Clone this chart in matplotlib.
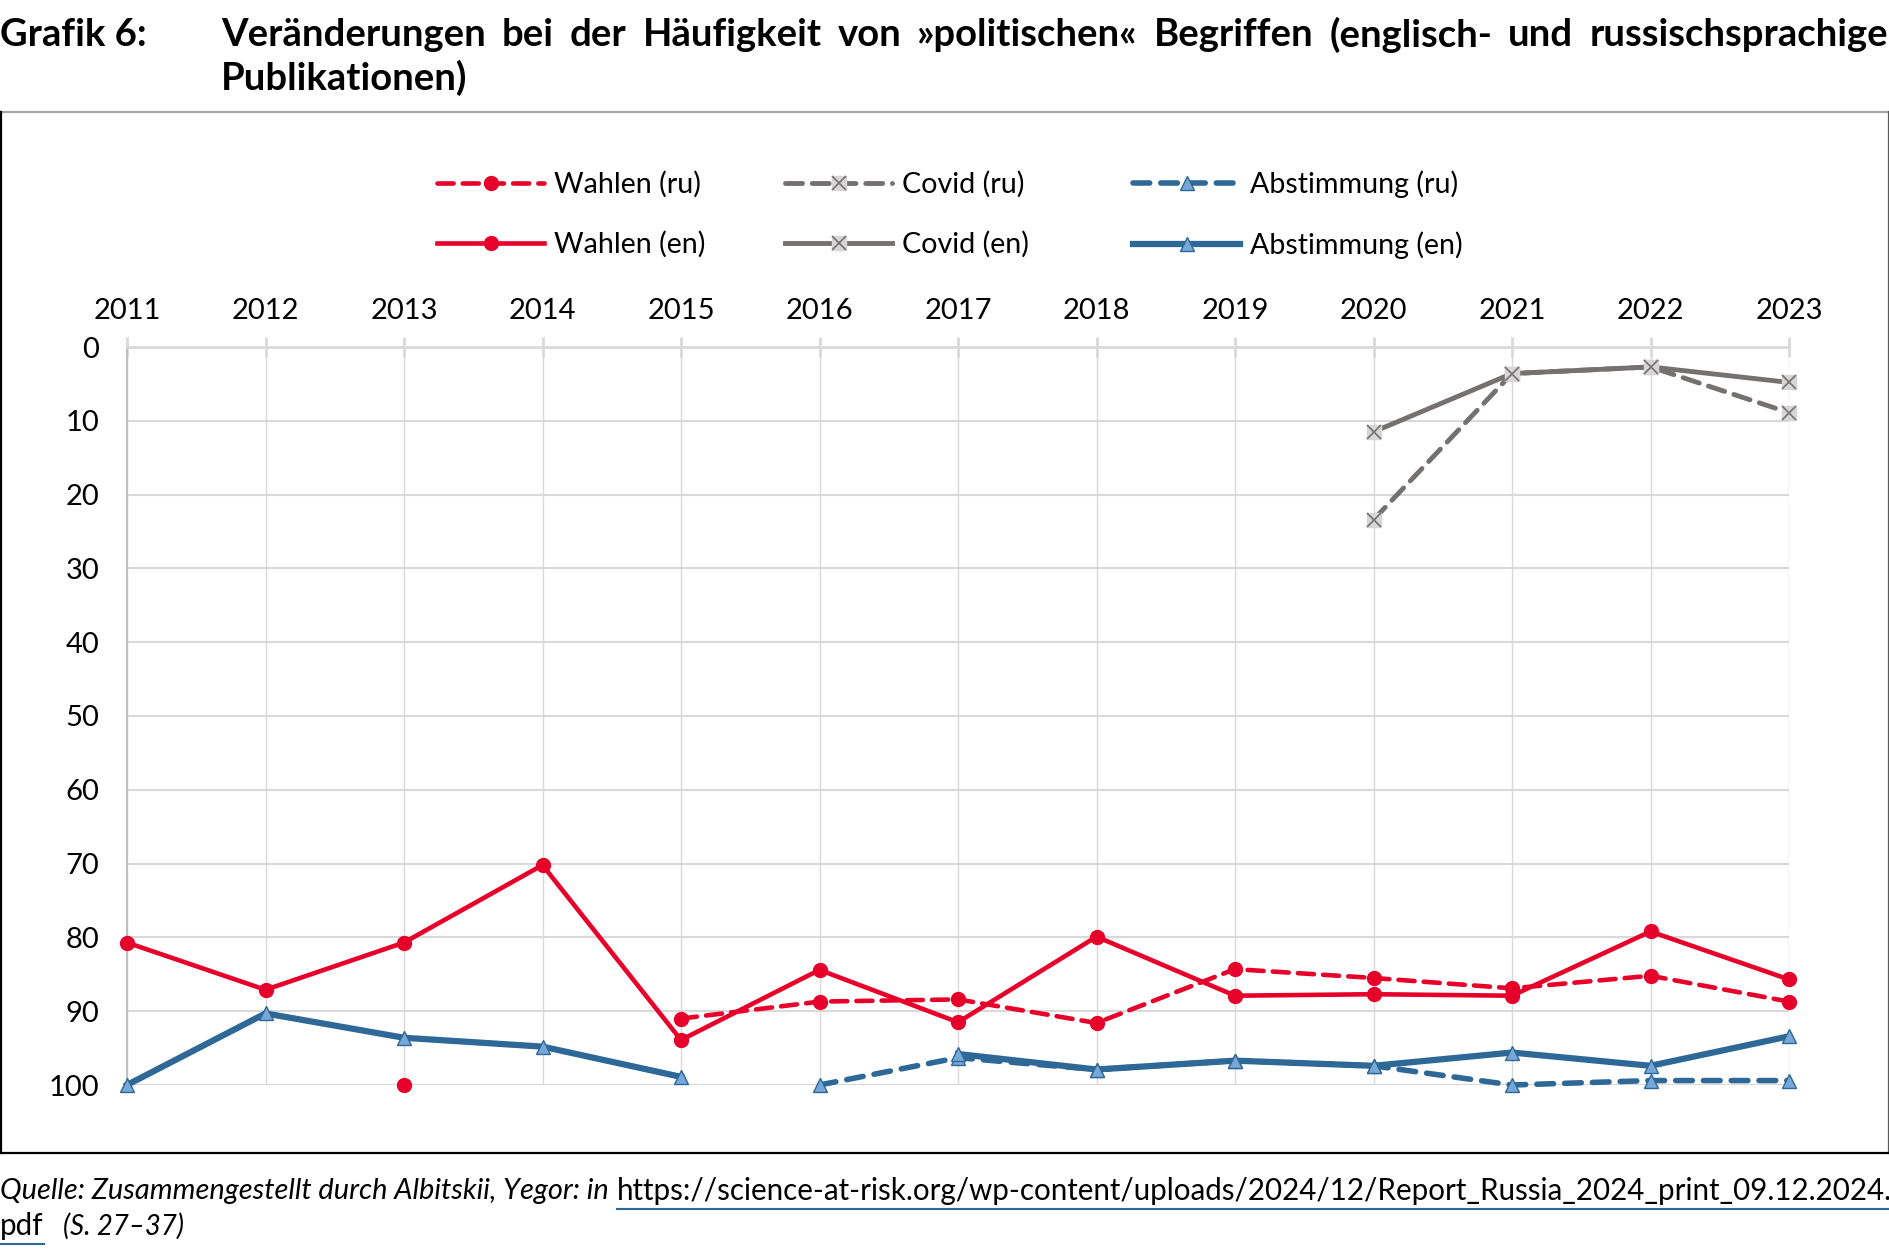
import numpy as np
from matplotlib import pyplot as plt
from matplotlib.lines import Line2D
from matplotlib.legend_handler import HandlerTuple

plt.rcParams['font.family'] = ['Lato', 'DejaVu Sans']

nan = np.nan
years = list(range(2011, 2024))
wahlen_ru = [nan, nan, 100, nan, 91.0, 88.7, 88.4, 91.6, 84.3, 85.5, 86.9, 85.2, 88.7]
wahlen_en = [80.7, 87.1, 80.7, 70.2, 93.9, 84.4, 91.5, 79.9, 87.9, 87.7, 87.9, 79.2, 85.7]
covid_ru = [nan] * 9 + [23.4, 3.6, 2.7, 8.9]
covid_en = [nan] * 9 + [11.5, 3.6, 2.7, 4.8]
abst_ru = [nan] * 5 + [100, 96.3, 97.9, 96.7, 97.4, 100, 99.4, 99.4]
abst_en = [100, 90.3, 93.6, 94.8, 98.9, nan, 95.8, 97.9, 96.7, 97.4, 95.6, 97.4, 93.4]
y_ticks = list(range(0, 101, 10))

title_label = "Grafik 6:"
title_line1 = "Veränderungen bei der Häufigkeit von »politischen« Begriffen (englisch- und russischsprachige"
title_line2 = "Publikationen)"
source_text = "Quelle: Zusammengestellt durch Albitskii, Yegor: in"
link_text = "https://science-at-risk.org/wp-content/uploads/2024/12/Report_Russia_2024_print_09.12.2024."
link_end = "pdf"
pages_text = "(S. 27–37)"

RED = "#E6002A"
GRAY = "#767171"
BLUE = "#2E6896"
TRI = "#76A7D6"

W, H = 1890, 1254


def justify(fig, pieces, x0, x1, y):
    # place pieces so that they fill x0..x1 (pixels)
    texts = [fig.text(0, 1 - y / H, s, va='center', ha='left', **kw) for s, kw in pieces]
    fig.canvas.draw()
    r = fig.canvas.get_renderer()
    widths = [t.get_window_extent(r).width for t in texts]
    gap = (x1 - x0 - sum(widths)) / max(len(texts) - 1, 1)
    x = x0
    for t, w in zip(texts, widths):
        t.set_x(x / W)
        x += w + gap
    return texts


def fit_text(fig, s, x0, x1, y, size, **kw):
    # scale font size so the text spans x0..x1 (pixels)
    t = fig.text(x0 / W, 1 - y / H, s, va='center', ha='left', fontsize=size, **kw)
    fig.canvas.draw()
    w = t.get_window_extent(fig.canvas.get_renderer()).width
    t.set_fontsize(size * (x1 - x0) / w)
    fig.canvas.draw()
    return t


def underline(fig, t, y):
    r = fig.canvas.get_renderer()
    bb = t.get_window_extent(r)
    fig.add_artist(Line2D([bb.x0 / W, bb.x1 / W], [1 - y / H, 1 - y / H],
                          transform=fig.transFigure, color=BLUE, lw=1.5))


def main() -> None:
    fig = plt.figure(figsize=(W / 100, H / 100), dpi=100)

    # frame around the chart
    for xs, ys, c in [([1, 1889], [112, 112], "#A6A6A6"), ([1889, 1889], [112, 1153], "#595959"),
                      ([1, 1889], [1153, 1153], "black"), ([1, 1], [112, 1153], "black")]:
        fig.add_artist(Line2D([x / W for x in xs], [1 - v / H for v in ys],
                              transform=fig.transFigure, color=c, lw=1.6))

    ax = fig.add_axes([127 / W, 1 - 1085 / H, (1789 - 127) / W, (1085 - 347) / H])

    ax.plot(years, wahlen_ru, color=RED, lw=3.3, ls=(0, (3.5, 2)), dash_capstyle='round',
            marker='o', ms=10, clip_on=False, zorder=3, label="Wahlen (ru)")
    cr, = ax.plot(years, covid_ru, color=GRAY, lw=3.5, ls=(0, (3.5, 2)), dash_capstyle='round',
                  marker='s', ms=10, mfc="#D6D6D6", mec="#D6D6D6", clip_on=False, zorder=3)
    crx, = ax.plot(years, covid_ru, ls='none', marker='x', ms=10, mew=1.2, color=GRAY,
                   clip_on=False, zorder=3.1)
    ax.plot(years, abst_ru, color=BLUE, lw=4, ls=(0, (3, 2)), dash_capstyle='round',
            marker='^', ms=10, mfc=TRI, mec=BLUE, mew=1, clip_on=False, zorder=3,
            label="Abstimmung (ru)")

    ax.plot(years, wahlen_en, color=RED, lw=3.3, marker='o', ms=10, clip_on=False, zorder=4,
            label="Wahlen (en)")
    ce, = ax.plot(years, covid_en, color=GRAY, lw=3.5, marker='s', ms=10, mfc="#D6D6D6",
                  mec="#D6D6D6", clip_on=False, zorder=4)
    cex, = ax.plot(years, covid_en, ls='none', marker='x', ms=10, mew=1.2, color=GRAY,
                   clip_on=False, zorder=4.1)
    ax.plot(years, abst_en, color=BLUE, lw=4.5, marker='^', ms=10, mfc=TRI, mec=BLUE, mew=1,
            clip_on=False, zorder=4, label="Abstimmung (en)")

    ax.set_xlim(2011, 2023)
    ax.set_ylim(100, 0)
    ax.xaxis.tick_top()
    ax.set_xticks(years)
    ax.set_yticks(y_ticks)
    ax.tick_params(axis='x', direction='inout', length=14, width=2, color='#D9D9D9',
                   pad=9.5, labelsize=21)
    ax.tick_params(axis='y', length=0, pad=20, labelsize=21)
    ax.grid(axis='y', color='#D9D9D9', lw=1.5)
    ax.grid(axis='x', color='#D9D9D9', lw=1)
    ax.set_axisbelow(True)
    for s in ['bottom', 'right']:
        ax.spines[s].set_visible(False)
    ax.spines['top'].set_color('#D9D9D9')
    ax.spines['top'].set_linewidth(2)
    ax.spines['left'].set_color('#BFBFBF')
    ax.spines['left'].set_linewidth(1.5)

    # legend: three columns of two rows
    lines = ax.get_lines()
    groups = [
        ([lines[0], lines[4]], ["Wahlen (ru)", "Wahlen (en)"], 437),
        ([(cr, crx), (ce, cex)], ["Covid (ru)", "Covid (en)"], 785),
        ([lines[3], lines[7]], ["Abstimmung (ru)", "Abstimmung (en)"], 1133),
    ]
    for handles, labels, x in groups:
        fig.legend(handles, labels, loc='center left', bbox_to_anchor=(x / W, 1 - 214.5 / H),
                   frameon=False, fontsize=20.6, handlelength=3.75, handletextpad=0.33,
                   labelspacing=1.15, borderpad=0, borderaxespad=0,
                   handler_map={tuple: HandlerTuple(ndivide=1)})

    # title
    fig.text(0, 1 - 35 / H, title_label, fontsize=27.5, fontweight='bold', va='center')
    justify(fig, [(w, dict(fontsize=27.5, fontweight='bold')) for w in title_line1.split()],
            221, 1888, 35)
    fig.text(221 / W, 1 - 78 / H, title_line2, fontsize=27.5, fontweight='bold', va='center')

    # source
    fit_text(fig, source_text, 0, 611, 1191, 18, style='italic')
    t_link = fit_text(fig, link_text, 617, 1888, 1191, 18)
    underline(fig, t_link, 1209)
    t_pdf = fig.text(0, 1 - 1226 / H, link_end, fontsize=t_link.get_fontsize(), va='center')
    fig.text(63 / W, 1 - 1226 / H, pages_text, fontsize=19.8, style='italic', va='center')
    fig.canvas.draw()
    underline(fig, t_pdf, 1244)

    fig.savefig("out.png", dpi=100)


if __name__ == '__main__':
    main()
